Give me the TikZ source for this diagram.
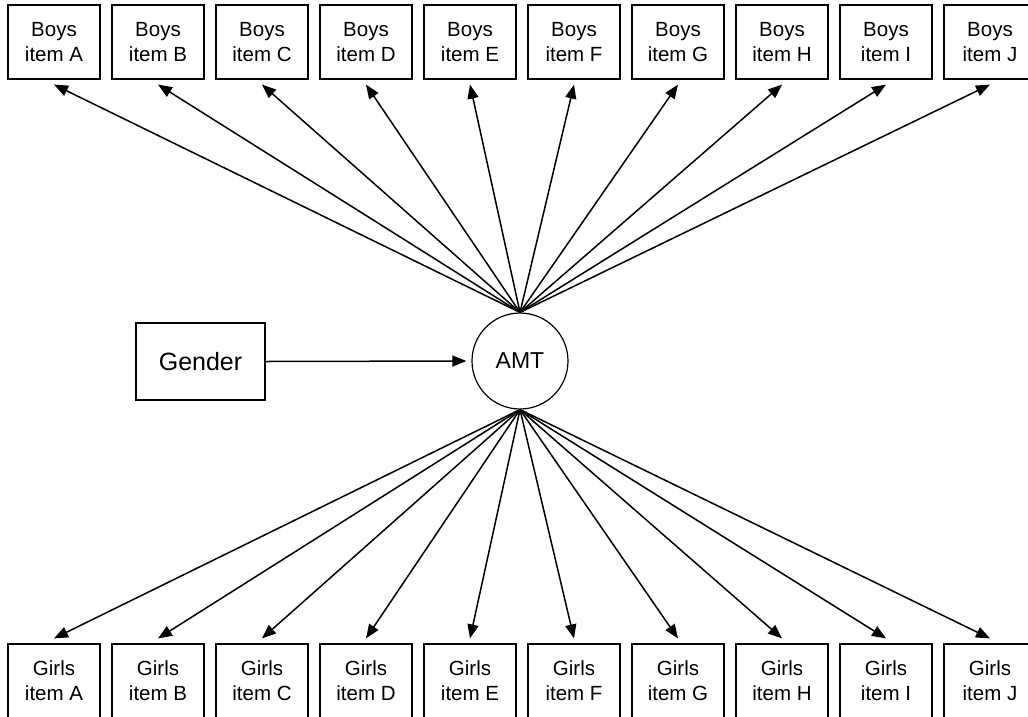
\documentclass[tikz,border=0pt]{standalone}
\usepackage{fontspec}
\setmainfont{Liberation Sans}
\usetikzlibrary{arrows.meta,calc}
\begin{document}
\begin{tikzpicture}[x=1pt,y=-1pt,
  itembox/.style={draw, line width=1.2pt, minimum width=92pt, minimum height=74pt, inner sep=0pt, align=center, font=\fontsize{20.5}{25}\selectfont},
  conn/.style={line width=1.5pt, -{Triangle[length=14pt,width=11pt]}}]
\useasboundingbox (0,0) rectangle (1028,716);
\foreach \L [count=\i from 0] in {A,B,C,D,E,F,G,H,I,J} {
  \node[itembox] (b\L) at (54+104*\i,42) {Boys\\item \L};
  \node[itembox] (g\L) at (54+104*\i,681) {Girls\\item \L};
}
\node[draw, circle, line width=1.2pt, minimum size=96pt, inner sep=0pt, font=\fontsize{23}{27}\selectfont] (amt) at (520,361) {AMT};
\node[draw, line width=1.2pt, minimum width=129pt, minimum height=77pt, inner sep=0pt, font=\fontsize{25}{30}\selectfont] (gender) at (200.5,361.5) {Gender};
\draw[conn] (gender.east) -- ($(amt.west)+(-5,0)$);
\foreach \L in {A,B,C,D,E,F,G,H,I,J} {
  \draw[conn] (amt.north) -- ($(b\L.south)+(0,5)$);
  \draw[conn] (amt.south) -- ($(g\L.north)+(0,-5)$);
}
\end{tikzpicture}
\end{document}
